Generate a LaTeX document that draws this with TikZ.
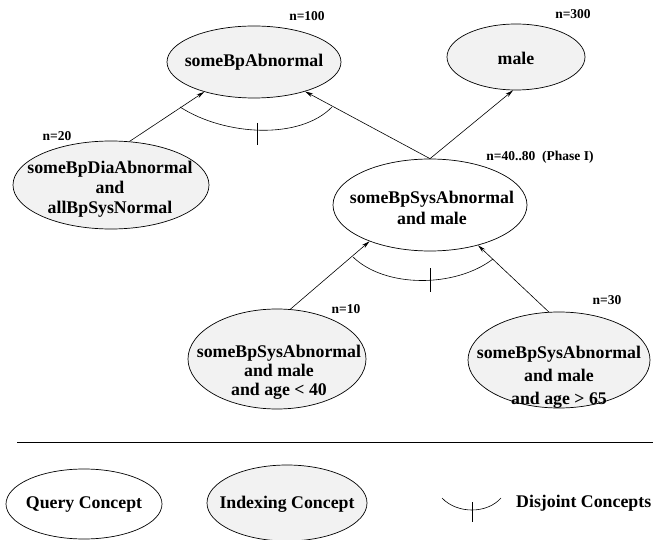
\documentclass[tikz,border=0pt]{standalone}
\usepackage{fontspec}
\setmainfont{Liberation Serif}
\usetikzlibrary{shapes.geometric,arrows.meta}
\definecolor{conceptfill}{RGB}{242,242,242}
\begin{document}
\begin{tikzpicture}[x=1pt,y=-1pt,
  concept/.style={ellipse,draw,line width=0.7pt,fill=conceptfill,inner sep=0pt},
  query/.style={ellipse,draw,line width=0.7pt,fill=white,inner sep=0pt},
  ctext/.style={font=\fontsize{17.8}{21}\selectfont\bfseries,align=center,inner sep=0pt},
  count/.style={font=\fontsize{13.5}{15}\selectfont\bfseries,inner sep=0pt},
  isa/.style={-{Stealth[length=8pt,width=4pt]},line width=0.6pt},
  disj/.style={line width=0.6pt}]
\useasboundingbox (0,0) rectangle (653,540);

% concepts
\node[concept,minimum width=174pt,minimum height=72pt] (abn) at (254,62) {};
\node[ctext] (abn-t) at (254,62) {someBpAbnormal};
\node[count] (abn-n) at (307,16) {n=100};

\node[concept,minimum width=138pt,minimum height=66pt] (male) at (516,57) {};
\node[ctext] (male-t) at (516,58) {male};
\node[count] (male-n) at (573,14) {n=300};

\node[concept,minimum width=196pt,minimum height=88pt] (dia) at (111,185) {};
\node[ctext,font=\fontsize{17.8}{20}\selectfont\bfseries] (dia-t) at (110,189) {someBpDiaAbnormal\\and\\allBpSysNormal};
\node[count] (dia-n) at (57,136) {n=20};

\node[query,minimum width=194pt,minimum height=92pt] (sm) at (430,205) {};
\node[ctext] (sm-t) at (432,208) {someBpSysAbnormal\\and male};
\node[count] (sm-n) at (540,157) {n=40..80~~(Phase I)};

\node[concept,minimum width=178pt,minimum height=100pt] (bl) at (277,359) {};
\node[ctext,font=\fontsize{17.8}{19}\selectfont\bfseries] (bl-t) at (279,372) {someBpSysAbnormal\\and male\\and age < 40};
\node[count] (bl-n) at (346,309) {n=10};

\node[concept,minimum width=182pt,minimum height=96pt] (br) at (559,360) {};
\node[ctext,font=\fontsize{17.8}{23}\selectfont\bfseries] (br-t) at (559,377) {someBpSysAbnormal\\and male\\and age > 65};
\node[count] (br-n) at (607,300) {n=30};

% subsumption arrows
\draw[isa] (dia.67) -- (abn.211);
\draw[isa] (sm.90) -- (abn.330);
\draw[isa] (sm.90) -- (male.265);
\draw[isa] (bl.75) -- (sm.211);
\draw[isa] (br.102) -- (sm.320);

% disjointness marks
\draw[disj] (180,107) .. controls (225,136) and (300,140) .. (332,107);
\draw[disj] (257,123) -- (257,145);
\draw[disj] (353,257) .. controls (385,288) and (455,288) .. (493,259);
\draw[disj] (430,268) -- (430,292);

% legend
\draw[line width=0.7pt] (17,442) -- (653,442);
\node[query,minimum width=156pt,minimum height=70pt] (lq) at (84,504) {};
\node[ctext] (lq-t) at (84,505) {Query Concept};
\node[concept,minimum width=160pt,minimum height=76pt] (li) at (287,503) {};
\node[ctext] (li-t) at (287,504) {Indexing Concept};
\draw[disj] (442,498) .. controls (457,514) and (487,514) .. (501,498);
\draw[disj] (472,502) -- (472,522);
\node[ctext,anchor=west] (ld-t) at (516,503) {Disjoint Concepts};
\end{tikzpicture}
\end{document}
